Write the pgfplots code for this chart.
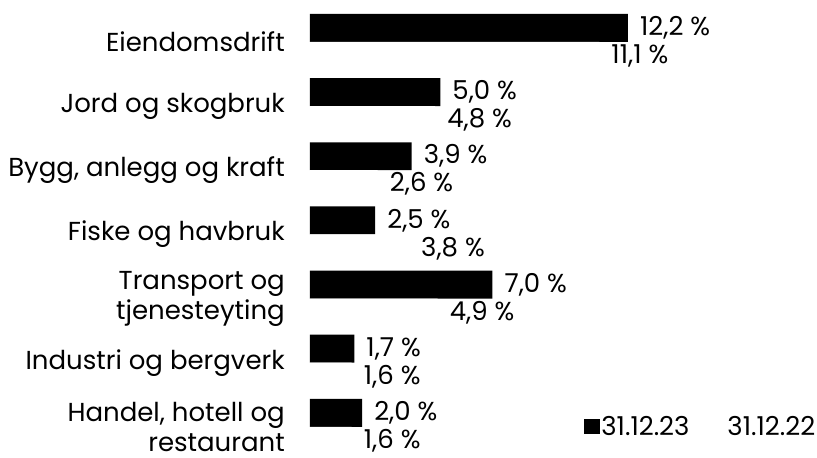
\documentclass[border=0pt]{standalone}
\usepackage{pgfplots}
\pgfplotsset{compat=1.18}
\usepackage{fontspec}
\setmainfont{Poppins}
\newcommand\chartfont{\fontsize{26bp}{30bp}\selectfont}

\begin{document}
\begin{tikzpicture}
\begin{axis}[
    xbar,
    scale only axis,
    width=507bp, height=450bp,
    xmin=0, xmax=19.45,
    ymin=-0.36, ymax=6.654,
    bar width=28bp,
    axis line style={draw=none},
    xtick=\empty,
    ytick={0,1,2,3,4,5,6},
    yticklabels={{Handel, hotell og\\restaurant},{Industri og bergverk},{Transport og\\tjenesteyting},{Fiske og havbruk},{Bygg, anlegg og kraft},{Jord og skogbruk},{Eiendomsdrift}},
    major tick length=0pt,
    yticklabel style={font=\chartfont, align=right, anchor=east, inner sep=0pt, xshift=-25bp},
    point meta=x,
    nodes near coords={\pgfmathprintnumber{\pgfplotspointmeta}\ \%},
    every node near coord/.append style={font=\chartfont, text=black, inner sep=0pt, anchor=west, xshift=12bp},
    /pgf/number format/.cd, fixed, fixed zerofill, precision=1, use comma, assume math mode=true,
    /pgfplots/.cd,
    legend columns=2,
    legend cell align=left,
    legend style={at={(rel axis cs:1,0)}, anchor=east, xshift=0bp, yshift=23bp,
        draw=none, fill=none, font=\chartfont, inner sep=0pt,
        nodes={inner sep=1.5bp},
        /tikz/every even column/.append style={column sep=19bp}},
    legend image code/.code={\fill[#1] (0bp,-7.5bp) rectangle (16bp,7.5bp);},
]
\addplot[fill=black, draw=none, bar shift=14bp] coordinates {
    (12.2,6) (5.0,5) (3.9,4) (2.5,3) (7.0,2) (1.7,1) (2.0,0)
};
\addplot[fill=white, draw=none, bar shift=-14bp] coordinates {
    (11.1,6) (4.8,5) (2.6,4) (3.8,3) (4.9,2) (1.6,1) (1.6,0)
};
\legend{31.12.23, 31.12.22}
\end{axis}
\path ([xshift=-310bp, yshift=-8bp]current axis.south west) rectangle (current axis.north east);
\end{tikzpicture}
\end{document}
